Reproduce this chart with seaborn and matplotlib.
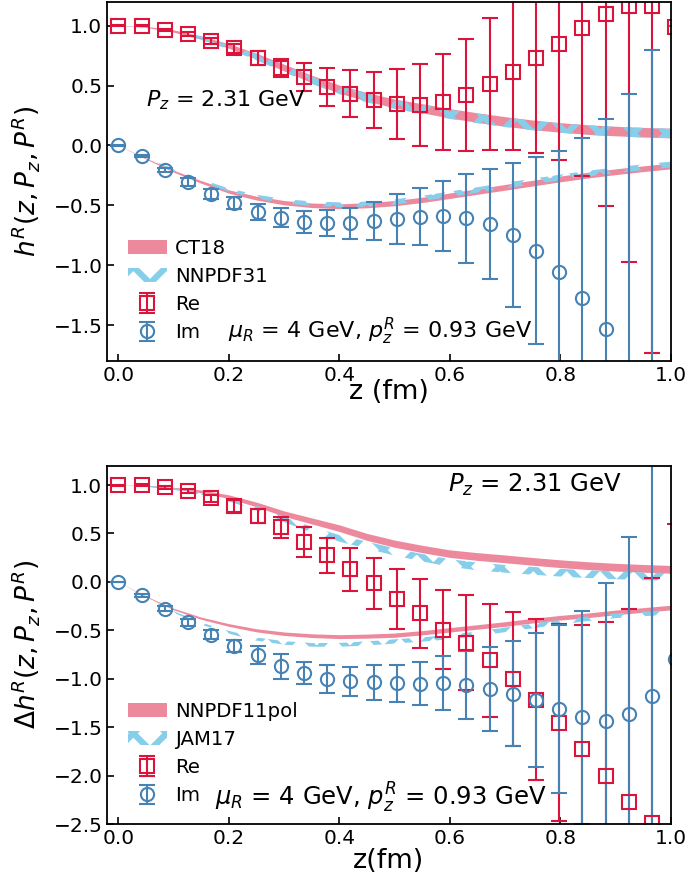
import numpy as np
import matplotlib
matplotlib.use("Agg")
import matplotlib.pyplot as plt
import seaborn as sns

# lattice data: z = n * 0.042 fm
z = [0.042 * n for n in range(25)]

# top panel (unpolarized)
re_top = [1.0, 1.0, 0.967, 0.93, 0.875, 0.81, 0.73, 0.65, 0.57, 0.485, 0.43, 0.38, 0.345,
          0.339, 0.364, 0.42, 0.51, 0.617, 0.728, 0.847, 0.978, 1.10, 1.16, 1.16, 0.985]
re_top_err = [0.005, 0.005, 0.008, 0.015, 0.025, 0.04, 0.055, 0.075, 0.118, 0.16, 0.197, 0.236, 0.289,
              0.34, 0.40, 0.47, 0.55, 0.656, 0.79, 0.97, 1.23, 1.61, 2.13, 2.89, 3.5]
im_top = [0.0, -0.089, -0.206, -0.306, -0.408, -0.48, -0.555, -0.603, -0.64, -0.65, -0.65, -0.63, -0.617,
          -0.594, -0.589, -0.61, -0.658, -0.75, -0.88, -1.056, -1.27, -1.533, -1.9, -2.2, -2.3]
im_top_err = [0.003, 0.01, 0.02, 0.03, 0.04, 0.05, 0.065, 0.08, 0.095, 0.11, 0.13, 0.16, 0.21,
              0.24, 0.29, 0.37, 0.46, 0.60, 0.78, 1.01, 1.33, 1.75, 2.33, 3.0, 3.3]

# bottom panel (helicity)
re_bot = [1.0, 1.0, 0.976, 0.941, 0.865, 0.786, 0.682, 0.562, 0.412, 0.275, 0.13, -0.016, -0.175,
          -0.326, -0.492, -0.63, -0.81, -1.003, -1.218, -1.453, -1.729, -2.005, -2.27, -2.49, -2.9]
re_bot_err = [0.005, 0.008, 0.012, 0.02, 0.035, 0.06, 0.075, 0.105, 0.15, 0.18, 0.22, 0.266, 0.31,
              0.36, 0.41, 0.49, 0.58, 0.69, 0.83, 1.02, 1.28, 1.59, 1.99, 2.53, 3.5]
im_bot = [0.0, -0.14, -0.278, -0.417, -0.544, -0.66, -0.755, -0.872, -0.941, -1.003, -1.028, -1.038, -1.045,
          -1.052, -1.045, -1.062, -1.107, -1.155, -1.218, -1.314, -1.397, -1.432, -1.363, -1.176, -0.80]
im_bot_err = [0.003, 0.015, 0.025, 0.035, 0.045, 0.06, 0.09, 0.13, 0.116, 0.14, 0.15, 0.18, 0.19,
              0.22, 0.28, 0.35, 0.43, 0.54, 0.69, 0.87, 1.1, 1.42, 1.83, 2.6, 3.2]

# global fit bands
zb = [0.0, 0.05, 0.1, 0.15, 0.2, 0.25, 0.3, 0.35, 0.4, 0.45, 0.5,
      0.55, 0.6, 0.65, 0.7, 0.75, 0.8, 0.85, 0.9, 0.95, 1.0]
band_w = [0.0, 0.004, 0.009, 0.014, 0.019, 0.024, 0.028, 0.031, 0.034, 0.036, 0.037,
          0.038, 0.039, 0.04, 0.04, 0.04, 0.04, 0.04, 0.04, 0.04, 0.04]
band_w_im = [0.0, 0.004, 0.008, 0.011, 0.014, 0.016, 0.018, 0.019, 0.02, 0.021, 0.022,
             0.022, 0.023, 0.023, 0.024, 0.024, 0.024, 0.024, 0.024, 0.024, 0.024]

ct18_re = [1.0, 0.99, 0.955, 0.9, 0.83, 0.745, 0.65, 0.555, 0.47, 0.405, 0.35,
           0.31, 0.268, 0.232, 0.2, 0.172, 0.15, 0.132, 0.12, 0.11, 0.103]
ct18_im = [0.0, -0.11, -0.215, -0.305, -0.385, -0.44, -0.478, -0.5, -0.508, -0.5, -0.482,
           -0.455, -0.42, -0.385, -0.35, -0.315, -0.28, -0.248, -0.22, -0.195, -0.172]
nnpdf31_re = [1.0, 0.988, 0.952, 0.895, 0.822, 0.735, 0.64, 0.545, 0.462, 0.395, 0.342,
              0.3, 0.26, 0.225, 0.193, 0.166, 0.145, 0.128, 0.116, 0.107, 0.1]
nnpdf31_im = [0.0, -0.105, -0.205, -0.295, -0.372, -0.428, -0.465, -0.487, -0.495, -0.49, -0.472,
              -0.443, -0.408, -0.372, -0.336, -0.302, -0.268, -0.236, -0.208, -0.182, -0.16]

nnpdfpol_re = [1.0, 0.992, 0.968, 0.935, 0.88, 0.8, 0.705, 0.63, 0.555, 0.465, 0.395,
               0.34, 0.292, 0.262, 0.238, 0.212, 0.188, 0.168, 0.152, 0.14, 0.13]
nnpdfpol_im = [0.0, -0.15, -0.28, -0.375, -0.445, -0.5, -0.535, -0.555, -0.565, -0.56, -0.55,
               -0.525, -0.495, -0.465, -0.435, -0.4, -0.37, -0.345, -0.315, -0.29, -0.265]
jam17_re = [1.0, 0.99, 0.96, 0.915, 0.85, 0.765, 0.645, 0.54, 0.45, 0.38, 0.31,
            0.25, 0.195, 0.16, 0.135, 0.115, 0.095, 0.08, 0.068, 0.058, 0.05]
jam17_im = [0.0, -0.16, -0.31, -0.43, -0.52, -0.59, -0.63, -0.65, -0.65, -0.635, -0.615,
            -0.595, -0.57, -0.535, -0.495, -0.455, -0.415, -0.38, -0.35, -0.33, -0.315]

sns.set_style("ticks", {"xtick.direction": "in", "ytick.direction": "in",
                        "axes.edgecolor": "black", "text.color": "black",
                        "axes.labelcolor": "black", "xtick.color": "black",
                        "ytick.color": "black"})
plt.rcParams["font.family"] = ["DejaVu Sans"]
plt.rcParams["hatch.linewidth"] = 4.5
plt.rcParams["axes.linewidth"] = 1.3

RED = "crimson"
BLUE = "steelblue"
PINK = "crimson"
SKY = "skyblue"

fig = plt.figure(figsize=(6.85, 8.85), dpi=100)
ax1 = fig.add_axes([0.1566, 0.5921, 0.8225, 0.4060])
ax2 = fig.add_axes([0.1566, 0.0689, 0.8225, 0.4049])


def band(ax, c, w, kind):
    c = np.array(c)
    w = np.array(w)
    if kind == "solid":
        return ax.fill_between(zb, c - w, c + w, color=PINK, alpha=0.5, lw=0)
    return ax.fill_between(zb, c - w, c + w, facecolor="none", edgecolor=SKY,
                           hatch="x", lw=0)


def panel(ax, fits, re, re_err, im, im_err, labels):
    h1 = band(ax, fits[0], band_w, "solid")
    band(ax, fits[1], band_w_im, "solid")
    h2 = band(ax, fits[2], band_w, "hatch")
    band(ax, fits[3], band_w_im, "hatch")
    h3 = ax.errorbar(z, re, yerr=re_err, fmt="s", color=RED, mfc="none", mec=RED,
                     ms=9.5, mew=1.5, elinewidth=1.5, capsize=6, capthick=1.5)
    h4 = ax.errorbar(z, im, yerr=im_err, fmt="o", color=BLUE, mfc="none", mec=BLUE,
                     ms=9.5, mew=1.5, elinewidth=1.5, capsize=6, capthick=1.5)
    ax.legend([h1, h2, h3, h4], labels, loc="lower left", frameon=False,
              fontsize=14.2, bbox_to_anchor=(0.008, 0.008), labelspacing=0.47,
              handletextpad=0.4, borderpad=0.3)
    ax.set_xlim(-0.02, 1.0)
    ax.set_xticks([0.0, 0.2, 0.4, 0.6, 0.8, 1.0])
    ax.tick_params(labelsize=14.5, length=5, width=1.2, direction="in", colors="black")
    for s in ax.spines.values():
        s.set_visible(True)


panel(ax1, [ct18_re, ct18_im, nnpdf31_re, nnpdf31_im], re_top, re_top_err, im_top, im_top_err,
      ["CT18", "NNPDF31", "Re", "Im"])
ax1.set_ylim(-1.8, 1.2)
ax1.set_yticks([-1.5, -1.0, -0.5, 0.0, 0.5, 1.0])
ax1.set_xlabel("z (fm)", fontsize=19.5, labelpad=-4)
ax1.set_ylabel(r"$h^R(z, P_z, P^R)$", fontsize=19, labelpad=8)
ax1.text(0.05, 0.38, r"$P_z$ = 2.31 GeV", fontsize=16, va="center")
ax1.text(0.214, 0.083, r"$\mu_R$ = 4 GeV, $p_z^R$ = 0.93 GeV", fontsize=16,
         va="center", transform=ax1.transAxes)

panel(ax2, [nnpdfpol_re, nnpdfpol_im, jam17_re, jam17_im], re_bot, re_bot_err, im_bot, im_bot_err,
      ["NNPDF11pol", "JAM17", "Re", "Im"])
ax2.set_ylim(-2.5, 1.2)
ax2.set_yticks([-2.5, -2.0, -1.5, -1.0, -0.5, 0.0, 0.5, 1.0])
ax2.set_xlabel("z(fm)", fontsize=19.5, labelpad=0)
ax2.set_ylabel(r"$\Delta h^R(z, P_z, P^R)$", fontsize=19, labelpad=8)
ax2.text(0.605, 0.946, r"$P_z$ = 2.31 GeV", fontsize=17.5, va="center",
         transform=ax2.transAxes)
ax2.text(0.191, 0.072, r"$\mu_R$ = 4 GeV, $p_z^R$ = 0.93 GeV", fontsize=17.5,
         va="center", transform=ax2.transAxes)

fig.savefig("out.png", dpi=100)
